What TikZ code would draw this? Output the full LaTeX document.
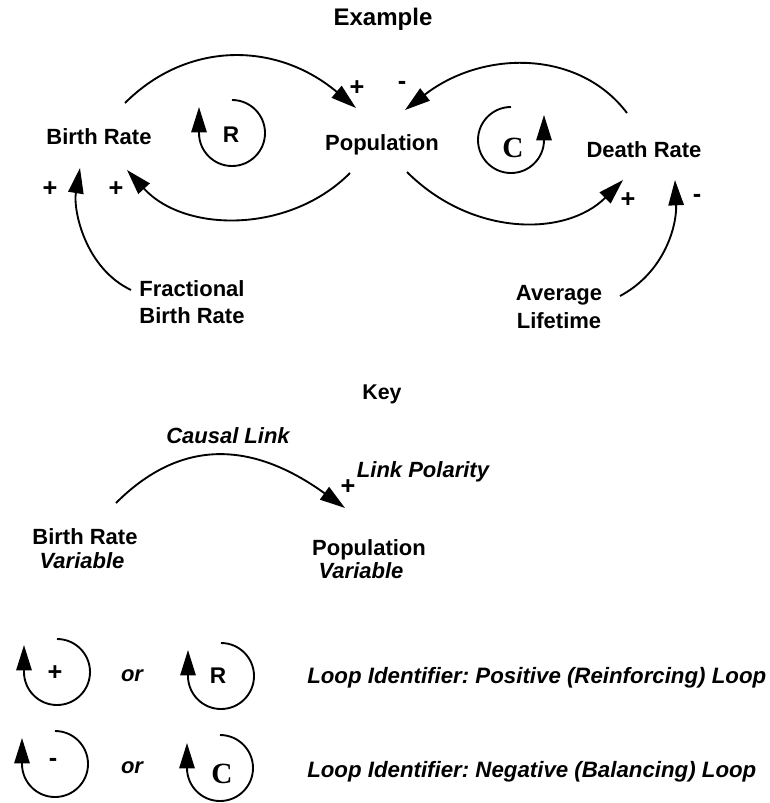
\documentclass[tikz,border=0pt]{standalone}
\usepackage{fontspec}
\setmainfont{Liberation Sans}
\newfontfamily\serifC{Liberation Serif}
\usetikzlibrary{arrows.meta}
\frenchspacing
\begin{document}
\begin{tikzpicture}[x=0.75pt,y=0.75pt,
  lbl/.style={font=\fontsize{16.5}{19}\selectfont\bfseries, anchor=base, inner sep=0pt},
  ilbl/.style={font=\fontsize{16.5}{19}\selectfont\bfseries\itshape, anchor=base, inner sep=0pt},
  ltxt/.style={font=\fontsize{16.7}{19}\selectfont\bfseries\itshape, anchor=base west, inner sep=0pt},
  sgn/.style={font=\fontsize{19}{22}\selectfont\bfseries, inner sep=0pt},
  ttl/.style={font=\fontsize{18}{21}\selectfont\bfseries, anchor=base, inner sep=0pt},
  rlet/.style={font=\fontsize{17}{20}\selectfont\bfseries, anchor=base, inner sep=0pt},
  clet/.style={font=\fontsize{22}{25}\selectfont\serifC\bfseries, anchor=base, inner sep=0pt},
  arrowtip/.style={-{Triangle[length=19pt,width=11.5pt]}},
  link/.style={line width=1.4pt, arrowtip},
  loopline/.style={line width=1.4pt, arrowtip}
]
\useasboundingbox (0,0) rectangle (770,-803);

% ---------- Example ----------
\node[ttl] (ex) at (383,-26) {Example};
\node[lbl] (br) at (99,-144) {Birth Rate};
\node[lbl] (pop) at (382,-150) {Population};
\node[lbl] (dr) at (644,-157) {Death Rate};
\node[lbl] (fbr) at (192,-296) {Fractional};
\node[lbl] (fbr2) at (192,-323) {Birth Rate};
\node[lbl] (al) at (559,-300) {Average};
\node[lbl] (al2) at (559,-328) {Lifetime};

\draw[link] ([shift={(26,41)}]br.base) .. controls (187,-41) and (276,-41) .. ([shift={(-26,42)}]pop.base);
\draw[link] ([shift={(-32,-23)}]pop.base) .. controls (290,-233.5) and (185,-233.5) .. ([shift={(28,-26)}]br.base);
\draw[link] ([shift={(-61,6)}]fbr.base) .. controls (85,-268) and (73,-210) .. ([shift={(-19,-24)}]br.base);
\draw[link] ([shift={(-17,44)}]dr.base) .. controls (579,-49.5) and (483,-49.5) .. ([shift={(23,40)}]pop.base);
\draw[link] ([shift={(25,-22)}]pop.base) .. controls (472,-237) and (566,-237) .. ([shift={(-21,-23)}]dr.base);
\draw[link] ([shift={(61,4)}]al.base) .. controls (665,-272) and (677,-225) .. ([shift={(31,-23)}]dr.base);

\node[sgn] (p1) at (357,-88) {+};
\node[sgn] (p2) at (116,-189) {+};
\node[sgn] (p3) at (50,-189) {+};
\node[sgn] (m1) at (402,-85) {-};
\node[sgn] (p4) at (628,-200) {+};
\node[sgn] (m2) at (697,-198) {-};

% loops
\node[rlet] (rl) at (231,-142) {R};
\draw[loopline] (232,-100) arc[start angle=90, end angle=-180, radius=33] -- ++(0,26);
\node[clet] (cl) at (513,-157) {C};
\draw[loopline] (511,-107) arc[start angle=90, end angle=360, radius=33] -- ++(0,25);

% ---------- Key ----------
\node[font=\fontsize{16}{19}\selectfont\bfseries, anchor=base, inner sep=0pt] (key) at (382,-399) {Key};
\node[ilbl] (causal) at (228,-443) {Causal Link};
\node[ilbl] (lpol) at (423,-477) {Link Polarity};
\node[sgn] (kp) at (348,-487) {+};
\node[lbl] (kbr) at (85,-544) {Birth Rate};
\node[ilbl] (kv1) at (82,-568) {Variable};
\node[lbl] (kpop) at (369,-555) {Population};
\node[ilbl] (kv2) at (361,-578) {Variable};
\draw[link] ([shift={(31,41)}]kbr.base) .. controls (179.5,-439.5) and (250,-439.5) .. ([shift={(-24,47)}]kpop.base);

% ---------- Loop identifiers ----------
\node[sgn] (ip) at (55,-673) {+};
\draw[loopline] (57,-639) arc[start angle=90, end angle=-180, radius=33] -- ++(0,27);
\node[ilbl] (or1) at (132,-681) {or};
\node[rlet] (ir) at (218,-683) {R};
\draw[loopline] (221,-643) arc[start angle=90, end angle=-180, radius=33] -- ++(0,26);
\node[ltxt] (lt1) at (307,-683) {Loop Identifier: Positive (Reinforcing) Loop};

\node[sgn] (im) at (53,-762) {-};
\draw[loopline] (55,-731) arc[start angle=90, end angle=-180, radius=33] -- ++(0,26);
\node[ilbl] (or2) at (132,-773) {or};
\node[clet] (ic) at (222,-783) {C};
\draw[loopline] (220,-735) arc[start angle=90, end angle=-180, radius=33] -- ++(0,25);
\node[ltxt] (lt2) at (307,-777) {Loop Identifier: Negative (Balancing) Loop};
\end{tikzpicture}
\end{document}
